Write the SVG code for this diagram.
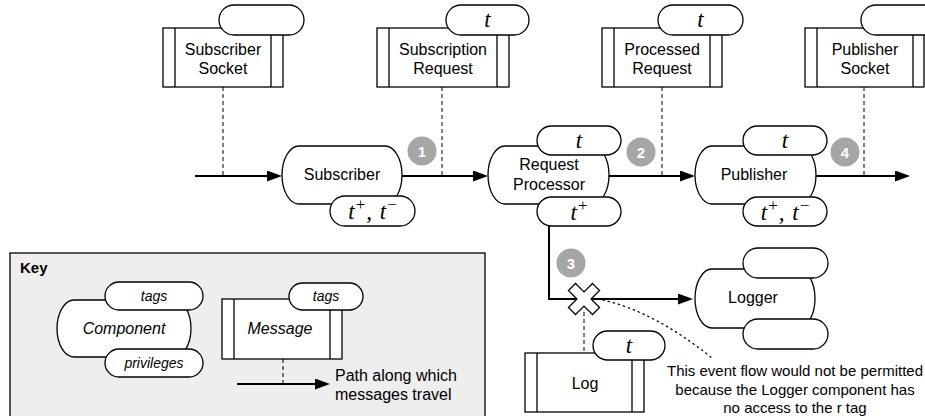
<svg xmlns="http://www.w3.org/2000/svg" width="925" height="416" viewBox="0 0 925 416">
  <defs>
    <style>
      .shape { fill: #fff; stroke: #000; stroke-width: 1.3; }
      .bar { stroke: #000; stroke-width: 1.3; }
      .lbl { font-family: "Liberation Sans", Arial, Helvetica, sans-serif; font-size: 16px; text-anchor: middle; fill: #000; }
      .it { font-style: italic; }
      .small { font-size: 14px; }
      .math { font-family: "Liberation Serif", "Times New Roman", serif; font-style: italic; font-size: 23px; text-anchor: middle; fill: #000; }
      .sup { font-style: normal; font-size: 17px; }
      .flow { fill: none; stroke: #000; stroke-width: 2; }
      .dash { fill: none; stroke: #000; stroke-width: 1; stroke-dasharray: 4 3; }
      .dots { fill: none; stroke: #000; stroke-width: 1.3; stroke-dasharray: 1.3 4; stroke-linecap: round; }
      .badge circle { fill: #a6a6a6; }
      .badge text { font-family: "Liberation Sans", Arial, sans-serif; font-weight: bold; font-size: 15px; fill: #fff; text-anchor: middle; }
      .note { font-family: "Liberation Sans", Arial, sans-serif; font-size: 15px; text-anchor: middle; fill: #000; }
    </style>
    <marker id="arrow" markerUnits="userSpaceOnUse" markerWidth="15" markerHeight="11" refX="9" refY="5.5" orient="auto">
      <path d="M0,0 L15,5.5 L0,11 Z" fill="#000"/>
    </marker>
  </defs>

  <rect width="925" height="416" fill="#fff"/>

  <!-- key panel -->
  <g id="key">
    <rect x="10" y="253" width="475" height="170" fill="#eeeeee" stroke="#000" stroke-width="1.3"/>
    <text x="20" y="273" class="lbl" style="text-anchor:start;font-weight:bold;font-size:15px">Key</text>
    <g id="key-component">
      <rect class="shape" x="57" y="300" width="134" height="57" rx="17" ry="28.5"/>
      <rect class="shape" x="105" y="282" width="98" height="28" rx="14"/>
      <rect class="shape" x="105" y="349" width="98" height="28" rx="14"/>
      <text class="lbl it" x="124" y="334">Component</text>
      <text class="lbl it small" x="154" y="301">tags</text>
      <text class="lbl it small" x="154" y="368">privileges</text>
    </g>
    <g id="key-message">
      <rect class="shape" x="222" y="299" width="120" height="60"/>
      <line class="bar" x1="234" y1="299" x2="234" y2="359"/>
      <line class="bar" x1="330" y1="299" x2="330" y2="359"/>
      <rect class="shape" x="289" y="283" width="74" height="27" rx="13.5"/>
      <text class="lbl it" x="280" y="334">Message</text>
      <text class="lbl it small" x="326" y="301">tags</text>
    </g>
    <g id="key-path">
      <line class="dash" x1="283" y1="359" x2="283" y2="384"/>
      <line class="flow" x1="237" y1="384" x2="324" y2="384" marker-end="url(#arrow)"/>
      <text class="lbl" x="335" y="381" style="text-anchor:start">Path along which</text>
      <text class="lbl" x="335" y="400" style="text-anchor:start">messages travel</text>
    </g>
  </g>

  <!-- connectors -->
  <g id="connectors">
    <line class="dash" x1="223" y1="87" x2="223" y2="176"/>
    <line class="dash" x1="442" y1="87" x2="442" y2="176"/>
    <line class="dash" x1="662" y1="87" x2="662" y2="176"/>
    <line class="dash" x1="864" y1="87" x2="864" y2="176"/>
    <line class="dash" x1="584" y1="312" x2="584" y2="353"/>
    <line class="flow" x1="195" y1="176" x2="276" y2="176" marker-end="url(#arrow)"/>
    <line class="flow" x1="402" y1="176" x2="482" y2="176" marker-end="url(#arrow)"/>
    <line class="flow" x1="609" y1="176" x2="689" y2="176" marker-end="url(#arrow)"/>
    <line class="flow" x1="816" y1="176" x2="904" y2="176" marker-end="url(#arrow)"/>
    <path class="flow" d="M549,226 V299 H687" marker-end="url(#arrow)"/>
    <path class="dots" d="M603,300 Q655,312 712,358"/>
  </g>

  <!-- blocked flow mark -->
  <g id="blocked" transform="translate(584,299) rotate(45)">
    <polygon class="shape" points="-5,-17 5,-17 5,-5 17,-5 17,5 5,5 5,17 -5,17 -5,5 -17,5 -17,-5 -5,-5"/>
  </g>

  <!-- messages -->
  <g id="subscriber-socket">
    <rect class="shape" x="163" y="28" width="120" height="59"/>
    <line class="bar" x1="175" y1="28" x2="175" y2="87"/>
    <line class="bar" x1="271" y1="28" x2="271" y2="87"/>
    <rect class="shape" x="219" y="5" width="85" height="30" rx="15"/>
    <text class="lbl" x="223" y="55">Subscriber</text>
    <text class="lbl" x="223" y="74">Socket</text>
  </g>
  <g id="subscription-request">
    <rect class="shape" x="377" y="28" width="132" height="59"/>
    <line class="bar" x1="389" y1="28" x2="389" y2="87"/>
    <line class="bar" x1="497" y1="28" x2="497" y2="87"/>
    <rect class="shape" x="446" y="5" width="83" height="30" rx="15"/>
    <text class="math" x="487.5" y="27">t</text>
    <text class="lbl" x="443" y="55">Subscription</text>
    <text class="lbl" x="443" y="74">Request</text>
  </g>
  <g id="processed-request">
    <rect class="shape" x="602" y="28" width="120" height="59"/>
    <line class="bar" x1="614" y1="28" x2="614" y2="87"/>
    <line class="bar" x1="710" y1="28" x2="710" y2="87"/>
    <rect class="shape" x="658" y="5" width="85" height="30" rx="15"/>
    <text class="math" x="700.5" y="27">t</text>
    <text class="lbl" x="662" y="55">Processed</text>
    <text class="lbl" x="662" y="74">Request</text>
  </g>
  <g id="publisher-socket">
    <rect class="shape" x="805" y="28" width="119" height="59"/>
    <line class="bar" x1="817" y1="28" x2="817" y2="87"/>
    <line class="bar" x1="913" y1="28" x2="913" y2="87"/>
    <rect class="shape" x="861" y="5" width="85" height="30" rx="15"/>
    <text class="lbl" x="865" y="55">Publisher</text>
    <text class="lbl" x="865" y="74">Socket</text>
  </g>
  <g id="log">
    <rect class="shape" x="525" y="353" width="119" height="59"/>
    <line class="bar" x1="537" y1="353" x2="537" y2="412"/>
    <line class="bar" x1="632" y1="353" x2="632" y2="412"/>
    <rect class="shape" x="593" y="331" width="72" height="29" rx="14.5"/>
    <text class="math" x="629" y="353">t</text>
    <text class="lbl" x="585" y="389">Log</text>
  </g>

  <!-- components -->
  <g id="subscriber">
    <rect class="shape" x="282" y="146" width="120" height="58" rx="17" ry="29"/>
    <rect class="shape" x="330" y="196" width="85" height="30" rx="15"/>
    <text class="lbl" x="342" y="180">Subscriber</text>
    <text class="math" x="372.5" y="219">t<tspan class="sup" dx="1" dy="-9">+</tspan><tspan dx="1" dy="9">, </tspan><tspan dx="2">t</tspan><tspan class="sup" dx="1" dy="-9">−</tspan></text>
  </g>
  <g id="request-processor">
    <rect class="shape" x="488" y="146" width="121" height="58" rx="17" ry="29"/>
    <rect class="shape" x="537" y="126" width="84" height="29" rx="14.5"/>
    <rect class="shape" x="537" y="197" width="84" height="29" rx="14.5"/>
    <text class="math" x="579" y="148">t</text>
    <text class="math" x="579" y="220">t<tspan class="sup" dx="1" dy="-9">+</tspan></text>
    <text class="lbl" x="549" y="170">Request</text>
    <text class="lbl" x="549" y="190">Processor</text>
  </g>
  <g id="publisher">
    <rect class="shape" x="695" y="146" width="121" height="58" rx="17" ry="29"/>
    <rect class="shape" x="743" y="126" width="84" height="29" rx="14.5"/>
    <rect class="shape" x="743" y="197" width="84" height="29" rx="14.5"/>
    <text class="math" x="785" y="148">t</text>
    <text class="math" x="785" y="220">t<tspan class="sup" dx="1" dy="-9">+</tspan><tspan dx="1" dy="9">, </tspan><tspan dx="2">t</tspan><tspan class="sup" dx="1" dy="-9">−</tspan></text>
    <text class="lbl" x="754" y="180">Publisher</text>
  </g>
  <g id="logger">
    <rect class="shape" x="695" y="269" width="120" height="59" rx="17" ry="29.5"/>
    <rect class="shape" x="743" y="248" width="85" height="30" rx="15"/>
    <rect class="shape" x="743" y="319" width="85" height="30" rx="15"/>
    <text class="lbl" x="753" y="303">Logger</text>
  </g>

  <!-- step badges -->
  <g class="badge" id="step-1"><circle cx="422" cy="151" r="14.5"/><text x="422" y="156.5">1</text></g>
  <g class="badge" id="step-2"><circle cx="641" cy="152" r="14.5"/><text x="641" y="157.5">2</text></g>
  <g class="badge" id="step-3"><circle cx="571" cy="263" r="14.5"/><text x="571" y="268.5">3</text></g>
  <g class="badge" id="step-4"><circle cx="845" cy="152" r="14.5"/><text x="845" y="157.5">4</text></g>

  <!-- annotation -->
  <g id="annotation">
    <text class="note" x="795" y="376">This event flow would not be permitted</text>
    <text class="note" x="795" y="395">because the Logger component has</text>
    <text class="note" x="795" y="413">no access to the r tag</text>
  </g>
</svg>
